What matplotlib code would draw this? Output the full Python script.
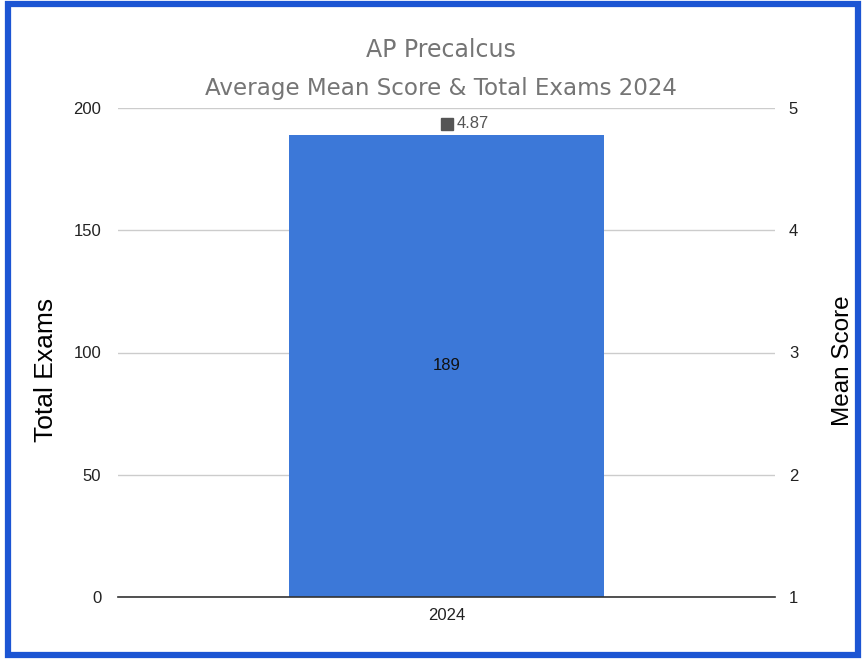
import matplotlib
matplotlib.use("Agg")
import matplotlib.pyplot as plt
from matplotlib.patches import Rectangle

categories = ["2024"]
total_exams = [189]
mean_score = [4.87]
left_ticks = [0, 50, 100, 150, 200]
right_ticks = [1, 2, 3, 4, 5]

plt.rcParams['font.family'] = ['Liberation Sans', 'DejaVu Sans']

fig = plt.figure(figsize=(8.64, 6.59), dpi=100)
ax = fig.add_axes([118/864, 1-597/659, (775-118)/864, (597-108)/659])
ax2 = ax.twinx()

x = list(range(len(categories)))
ax.bar(x, total_exams, width=0.48, color='#3c78d8', zorder=3)
for xi, v in zip(x, total_exams):
    ax.text(xi, v/2, str(v), ha='center', va='center', fontsize=12, color='#111111', zorder=4)

ax.set_xlim(-0.5, 0.5)
ax.set_ylim(0, 200)
ax.set_yticks(left_ticks)
ax.set_xticks(x)
ax.set_xticklabels(categories)
ax.grid(axis='y', color='#cccccc', linewidth=1, zorder=0)
for s in ['top', 'left', 'right']:
    ax.spines[s].set_visible(False)
ax.spines['bottom'].set_color('#333333')
ax.spines['bottom'].set_linewidth(1.2)
ax.spines['bottom'].set_zorder(5)
ax.tick_params(axis='both', length=0, labelsize=12, colors='#222222', pad=12)
ax.tick_params(axis='x', pad=8)
ax.set_ylabel('Total Exams', fontsize=19, color='#000000')
ax.yaxis.set_label_coords(-0.091, 0.464)

ax2.set_ylim(1, 5)
ax2.set_yticks(right_ticks)
for s in ax2.spines.values():
    s.set_visible(False)
ax2.tick_params(axis='y', length=0, labelsize=12, colors='#222222', pad=10)
ax2.set_ylabel('Mean Score', fontsize=17.5, color='#000000')
ax2.yaxis.set_label_coords(1.0868, 0.483)
ax2.plot(x, mean_score, marker='s', markersize=8, color='#555555', linestyle='none', zorder=5)
for xi, v in zip(x, mean_score):
    ax2.annotate(f"{v:.2f}", (xi, v), xytext=(7, 0), textcoords='offset points',
                 ha='left', va='center', fontsize=12, color='#555555')

title_kw = dict(ha='center', va='center', fontsize=17, color='#757575',
                family=['Liberation Sans Narrow', 'DejaVu Sans'])
fig.text(441/864, 1-50/659, "AP Precalcus", **title_kw)
t2 = fig.text(441/864, 1-88/659, "Average Mean Score & Total Exams 2024", **title_kw)
t2.set_fontsize(16.6)

fig.patches.append(Rectangle((8/864, 4/659), 850/864, 651/659, transform=fig.transFigure,
                             fill=False, edgecolor='#1c55d3', linewidth=4.5))

fig.savefig('out.png', dpi=100)
